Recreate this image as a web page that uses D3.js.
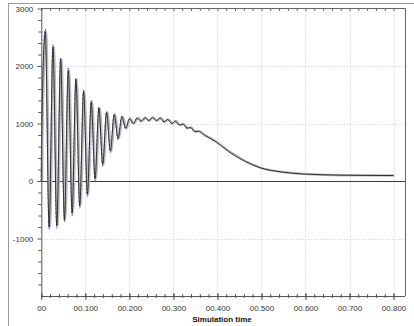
<!DOCTYPE html>
<html><head><meta charset="utf-8">
<script src="https://cdn.jsdelivr.net/npm/d3@7"></script>
<style>body{margin:0;background:#fff}svg{display:block}text{font-family:"Liberation Sans",Arial,sans-serif}</style>
</head><body><svg id="c" width="414" height="326"></svg>
<script>
// time (s) of sampled points (extrema of the oscillation, then decay samples)
const time = [0, 0.0006, 0.0091, 0.0178, 0.0265, 0.0352, 0.0439, 0.0526, 0.0613, 0.0700, 0.0786, 0.0873, 0.0960, 0.1047, 0.1134, 0.1221, 0.1308, 0.1395, 0.1482, 0.1569, 0.1656, 0.1743, 0.1830, 0.1917, 0.2003, 0.2090, 0.2177, 0.2264, 0.2351, 0.2438, 0.2525, 0.2612, 0.2699, 0.2786, 0.2873, 0.2960, 0.3047, 0.3134, 0.3221, 0.3308, 0.3394, 0.3481, 0.3568, 0.3700, 0.3948, 0.4289, 0.4634, 0.4970, 0.5425, 0.5880, 0.6561, 0.7243, 0.8000];
// black series
const simA = [0, 700, 2597, -800, 2336, -780, 2116, -670, 1930, -560, 1768, -430, 1560, -230, 1380, 40, 1270, 290, 1195, 520, 1160, 740, 1120, 917, 1085, 1000, 1095, 1040, 1100, 1050, 1105, 1050, 1095, 1030, 1070, 1000, 1040, 975, 990, 920, 930, 860, 865, 800, 690, 495, 340, 230, 160, 125, 105, 98, 95];
// blue series
const simB = [0, 650, 2640, -840, 2370, -820, 2150, -710, 1960, -600, 1790, -470, 1580, -270, 1400, 10, 1285, 260, 1205, 500, 1170, 720, 1125, 895, 1095, 985, 1100, 1030, 1105, 1042, 1110, 1045, 1100, 1025, 1075, 995, 1045, 970, 995, 915, 935, 858, 868, 805, 700, 505, 348, 236, 163, 127, 106, 99, 96];

const xTicks = [0, 0.1, 0.2, 0.3, 0.4, 0.5, 0.6, 0.7, 0.8];
const xTickLabels = ["00", "00.100", "00.200", "00.300", "00.400", "00.500", "00.600", "00.700", "00.800"];
const yTicks = [-1000, 0, 1000, 2000, 3000];
const yTickLabels = ["-1000", "0", "1000", "2000", "3000"];
const xTitle = "Simulation time";

const svg = d3.select("#c");
const L = 41.3, R = 405, T = 8.5, B = 296;
const x = d3.scaleLinear().domain([0, 0.826]).range([L, R]);
const y = d3.scaleLinear().domain([-2000, 3000]).range([B, T]);

// outer frame
svg.append("line").attr("x1", 8).attr("x2", 414).attr("y1", 3.5).attr("y2", 3.5).attr("stroke", "#9a9a9a");
svg.append("line").attr("x1", 8.5).attr("x2", 8.5).attr("y1", 3).attr("y2", 326).attr("stroke", "#9a9a9a");

// grid
const g = svg.append("g");
g.selectAll(".gx").data(xTicks.filter(d => d > 0)).join("line")
  .attr("x1", d => Math.round(x(d)) + 0.5).attr("x2", d => Math.round(x(d)) + 0.5)
  .attr("y1", T).attr("y2", B).attr("stroke", "#c8c8c8").attr("stroke-dasharray", "1,2");
g.selectAll(".gy").data(yTicks.filter(d => d !== 0 && d !== 3000)).join("line")
  .attr("x1", L).attr("x2", R).attr("y1", d => Math.round(y(d)) + 0.5).attr("y2", d => Math.round(y(d)) + 0.5)
  .attr("stroke", "#c8c8c8").attr("stroke-dasharray", "1,2");

// zero line
svg.append("line").attr("x1", L).attr("x2", R).attr("y1", Math.round(y(0)) + 0.5).attr("y2", Math.round(y(0)) + 0.5).attr("stroke", "#3a3a3a");

// series
const pts = (vals) => time.map((t, i) => [t, vals[i]]);
const line = d3.line().x(d => x(d[0])).y(d => y(d[1])).curve(d3.curveMonotoneX);
svg.append("path").attr("d", line(pts(simB))).attr("fill", "none").attr("stroke", "#3a3aff").attr("stroke-width", 1.1).attr("stroke-dasharray", "2,2");
svg.append("path").attr("d", line(pts(simA))).attr("fill", "none").attr("stroke", "#bcbcbc").attr("stroke-width", 2.4)
  .attr("transform", "translate(0.8,0)");
svg.append("path").attr("d", line(pts(simA))).attr("fill", "none").attr("stroke", "#202020").attr("stroke-width", 0.9);

// plot border top/right
svg.append("line").attr("x1", L).attr("x2", R + 0.5).attr("y1", T).attr("y2", T).attr("stroke", "#666");
svg.append("line").attr("x1", R + 0.5).attr("x2", R + 0.5).attr("y1", T).attr("y2", B).attr("stroke", "#666");

// top minor ticks
const minorX = d3.range(0, 41).map(i => i * 0.02);
svg.append("g").attr("transform", `translate(0,${T})`)
  .call(d3.axisBottom(x).tickValues(minorX).tickSize(2.5).tickFormat(""))
  .call(a => a.select(".domain").remove())
  .selectAll("line").attr("stroke", "#666");

// left axis
const minorY = d3.range(-2000, 3001, 200).filter(d => d % 1000 !== 0);
svg.append("g").attr("transform", `translate(${L},0)`)
  .call(d3.axisLeft(y).tickValues(minorY).tickSize(3).tickFormat(""))
  .call(a => a.select(".domain").remove())
  .selectAll("line").attr("stroke", "#555");
const ya = svg.append("g").attr("transform", `translate(${L},0)`)
  .call(d3.axisLeft(y).tickValues(yTicks).tickSize(4).tickPadding(4).tickFormat((d, i) => yTickLabels[i]));
ya.select(".domain").attr("stroke", "#555").attr("d", `M0.5,${T}V${B}`);
ya.selectAll("line").attr("stroke", "#555");
ya.selectAll("text").attr("font-size", 8).attr("fill", "#333").attr("font-family", "Liberation Sans, Arial, sans-serif");

// bottom axis
svg.append("g").attr("transform", `translate(0,${B})`)
  .call(d3.axisBottom(x).tickValues(minorX).tickSize(2).tickFormat(""))
  .call(a => a.select(".domain").remove())
  .selectAll("line").attr("y1", -2).attr("stroke", "#555");
const xa = svg.append("g").attr("transform", `translate(0,${B})`)
  .call(d3.axisBottom(x).tickValues(xTicks).tickSize(4).tickPadding(5).tickFormat((d, i) => xTickLabels[i]));
xa.select(".domain").attr("stroke", "#555").attr("d", `M${L},0.5H${R}`);
xa.selectAll("line").attr("y1", -3).attr("stroke", "#555");
xa.selectAll("text").attr("font-size", 8).attr("fill", "#333").attr("font-family", "Liberation Sans, Arial, sans-serif");

svg.append("text").attr("x", 222).attr("y", 322).attr("text-anchor", "middle")
  .attr("font-size", 8).attr("font-weight", "bold").attr("fill", "#111").text(xTitle);
</script></body></html>
